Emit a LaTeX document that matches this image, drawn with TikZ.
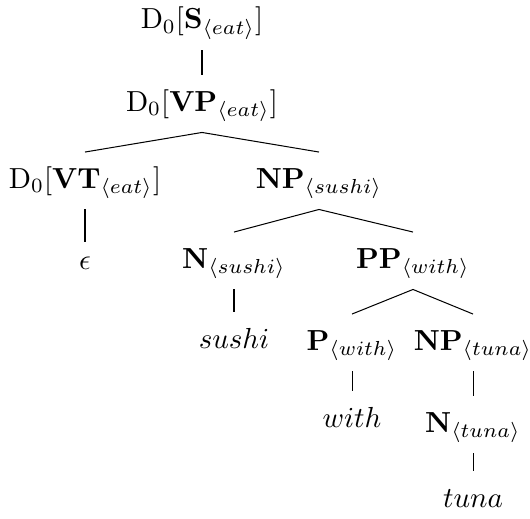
\documentclass[tikz,border=0pt]{standalone}
\usepackage{amsmath, amssymb}
\usepackage{tikz}
\usetikzlibrary{positioning}

\begin{document}
\begin{tikzpicture}[x=0.3448pt, y=-0.3448pt,
    cat/.style={anchor=base, inner xsep=2pt, inner ysep=4.2pt, text height=8pt, text depth=3pt},
    word/.style={cat},
    branch/.style={line width=0.35pt}]
    \useasboundingbox (0,0) rectangle (530,518);

    % Sentence and verb phrase
    \node[cat] (S) at (202,29) {$\mathrm{D}_0[\mathbf{S}_{\langle eat\rangle}]$};
    \node[cat] (VP) at (202,111) {$\mathrm{D}_0[\mathbf{VP}_{\langle eat\rangle}]$};

    % Verb and its object
    \node[cat] (VT) at (85,188) {$\mathrm{D}_0[\mathbf{VT}_{\langle eat\rangle}]$};
    \node[cat] (NPs) at (319,188) {$\mathbf{NP}_{\langle sushi\rangle}$};
    \node[word, text height=5pt] (eps) at (85,269) {$\epsilon$};

    % Object noun phrase
    \node[cat] (Ns) at (234,268) {$\mathbf{N}_{\langle sushi\rangle}$};
    \node[cat] (PP) at (413,268) {$\mathbf{PP}_{\langle with\rangle}$};
    \node[word] (sushi) at (234,348) {$sushi$};

    % Prepositional phrase
    \node[cat] (P) at (352,350) {$\mathbf{P}_{\langle with\rangle}$};
    \node[cat] (NPt) at (473,350) {$\mathbf{NP}_{\langle tuna\rangle}$};
    \node[word] (with) at (352,427) {$with$};
    \node[cat] (Nt) at (473,432) {$\mathbf{N}_{\langle tuna\rangle}$};
    \node[word] (tuna) at (473,507) {$tuna$};

    % Branches
    \draw[branch] (S.south) -- (VP.north);
    \draw[branch] (VP.south) -- (VT.north);
    \draw[branch] (VP.south) -- (NPs.north);
    \draw[branch] (VT.south) -- (eps.north);
    \draw[branch] (NPs.south) -- (Ns.north);
    \draw[branch] (NPs.south) -- (PP.north);
    \draw[branch] (Ns.south) -- (sushi.north);
    \draw[branch] (PP.south) -- (P.north);
    \draw[branch] (PP.south) -- (NPt.north);
    \draw[branch] (P.south) -- (with.north);
    \draw[branch] (NPt.south) -- (Nt.north);
    \draw[branch] (Nt.south) -- (tuna.north);
\end{tikzpicture}
\end{document}
